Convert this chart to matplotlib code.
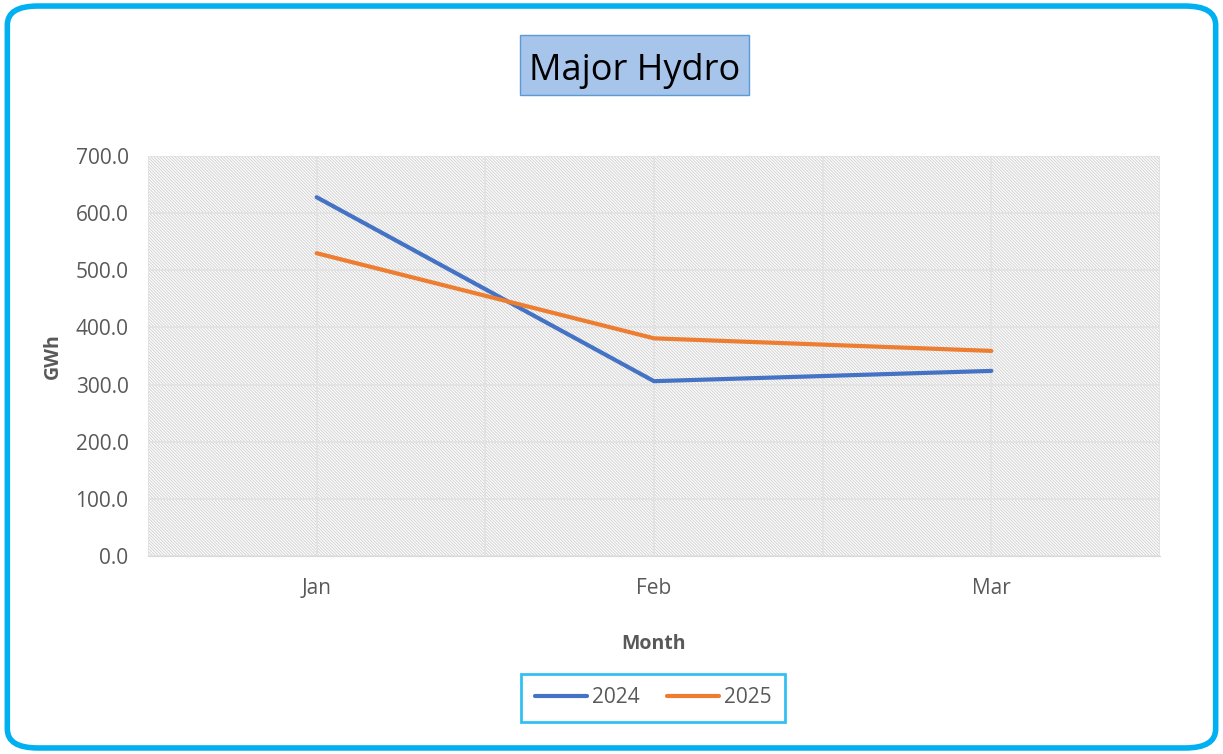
import matplotlib
matplotlib.use('Agg')
import matplotlib.pyplot as plt
from matplotlib.patches import Rectangle, FancyBboxPatch
import numpy as np

# data
months = ['Jan', 'Feb', 'Mar']
gwh_2024 = [628.0, 306.0, 324.0]
gwh_2025 = [530.0, 381.0, 359.0]

plt.rcParams['font.family'] = ['Open Sans', 'DejaVu Sans']
plt.rcParams['hatch.linewidth'] = 0.7
plt.rcParams['hatch.color'] = '#d2d2d2'

text_col = '#595959'
fig = plt.figure(figsize=(12.23, 7.54), dpi=100)

# outer rounded frame
frame = FancyBboxPatch((0.006, 0.008), 0.988, 0.984, boxstyle='round,pad=0,rounding_size=0.025',
                       transform=fig.transFigure, facecolor='none', edgecolor='#00B0F0',
                       linewidth=4, zorder=5)
fig.patches.append(frame)

ax = fig.add_axes([0.121, 0.2626, 0.8275, 0.5304])
ax.set_facecolor('white')
x = np.arange(len(months))

# hatched plot background
bg = Rectangle((0, 0), 1, 1, transform=ax.transAxes, facecolor='white',
               edgecolor='#d2d2d2', hatch='\\' * 11, linewidth=0, zorder=0)
ax.add_patch(bg)

ax.plot(x, gwh_2024, color='#4472C4', linewidth=3, solid_capstyle='round', label='2024', zorder=3)
ax.plot(x, gwh_2025, color='#ED7D31', linewidth=3, solid_capstyle='round', label='2025', zorder=3)

ax.set_xlim(-0.5, len(months) - 0.5)
ax.set_ylim(0, 700)
ax.set_yticks(np.arange(0, 701, 100))
ax.set_yticklabels(['{:.1f}'.format(v) for v in np.arange(0, 701, 100)])
ax.set_xticks(x)
ax.set_xticklabels(months)
ax.set_xticks(np.arange(-0.5, len(months), 1.0), minor=True)

ax.grid(True, which='major', color='#e3e3e3', linewidth=1.4, zorder=1)
ax.grid(True, which='minor', axis='x', color='#e3e3e3', linewidth=1.4, zorder=1)
ax.set_axisbelow(True)
for s in ax.spines.values():
    s.set_visible(False)
ax.spines['bottom'].set_visible(True)
ax.spines['bottom'].set_color('#d9d9d9')
ax.tick_params(which='both', length=0, colors=text_col, labelsize=15)
ax.tick_params(axis='x', pad=16)
ax.tick_params(axis='y', pad=14)

ax.set_xlabel('Month', fontsize=14, fontweight='bold', color=text_col, labelpad=25)
ax.set_ylabel('GWh', fontsize=14, fontweight='bold', color=text_col, labelpad=9)

# title box
fig.patches.append(Rectangle((0.4252, 0.874), 0.1872, 0.0796, transform=fig.transFigure,
                             facecolor='#A7C4EA', edgecolor='#5B9BD5', linewidth=1, zorder=2))
fig.text(0.5188, 0.894, 'Major Hydro', fontsize=26, color='black', ha='center', va='baseline',
         zorder=3)

leg = fig.legend(loc='center', bbox_to_anchor=(0.5342, 0.0743), ncol=2, frameon=True,
                 fontsize=15, handlelength=2.5, handletextpad=0.25, columnspacing=1.3,
                 fancybox=False, borderpad=0.65, borderaxespad=0)
leg.get_frame().set_edgecolor('#00B0F0')
leg.get_frame().set_linewidth(2)
for t in leg.get_texts():
    t.set_color(text_col)

fig.savefig('out.png', dpi=100, facecolor='white')
